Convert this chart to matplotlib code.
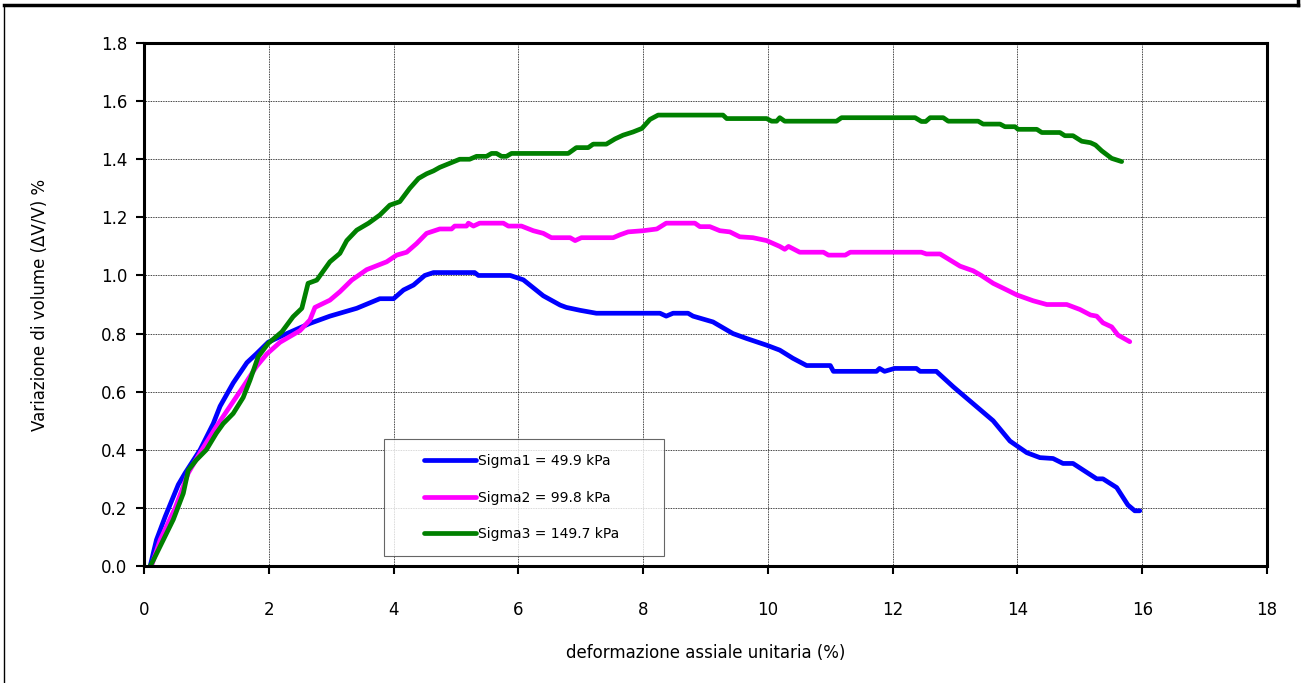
"""Volume change vs axial strain for three confining pressures."""

import matplotlib

matplotlib.use("Agg")
import matplotlib.pyplot as plt
from matplotlib import ticker
from matplotlib.legend_handler import HandlerLine2D
from matplotlib.lines import Line2D

# --- data --------------------------------------------------------------
sigma1_x = [0.1, 0.2, 0.34, 0.55, 0.66, 0.9, 1.11, 1.22, 1.43, 1.65, 1.8, 1.99,
            2.29, 2.66, 2.98, 3.41, 3.78, 4.0, 4.16, 4.32, 4.5, 4.64, 5.3, 5.36,
            5.87, 6.08, 6.4, 6.67, 6.77, 6.99, 7.25, 8.27, 8.37, 8.48, 8.72,
            8.8, 9.12, 9.44, 9.66, 9.98, 10.19, 10.4, 10.62, 11.0, 11.05,
            11.74, 11.79, 11.87, 12.03, 12.38, 12.44, 12.7, 12.97, 13.61,
            13.88, 14.15, 14.36, 14.57, 14.73, 14.89, 15.27, 15.37, 15.59,
            15.77, 15.88, 15.96]
sigma1_y = [0.0, 0.09, 0.17, 0.28, 0.32, 0.40, 0.49, 0.55, 0.63, 0.70, 0.73, 0.77,
            0.80, 0.835, 0.86, 0.887, 0.92, 0.92, 0.95, 0.967, 1.0, 1.01, 1.01,
            1.0, 1.0, 0.985, 0.93, 0.898, 0.89, 0.88, 0.87, 0.87, 0.86, 0.87,
            0.87, 0.86, 0.84, 0.80, 0.783, 0.76, 0.743, 0.715, 0.69, 0.69,
            0.67, 0.67, 0.68, 0.67, 0.68, 0.68, 0.67, 0.67, 0.617, 0.50, 0.43,
            0.39, 0.373, 0.37, 0.353, 0.353, 0.30, 0.30, 0.27, 0.21, 0.19, 0.19]

sigma2_x = [0.12, 0.26, 0.5, 0.71, 0.9, 1.16, 1.38, 1.59, 1.8, 1.97, 2.18, 2.5,
            2.66, 2.74, 2.98, 3.14, 3.33, 3.57, 3.89, 4.05, 4.21, 4.37, 4.53,
            4.74, 4.93, 4.98, 5.17, 5.2, 5.28, 5.38, 5.76, 5.84, 6.05, 6.24,
            6.4, 6.53, 6.83, 6.91, 7.01, 7.52, 7.63, 7.76, 8.0, 8.22, 8.37,
            8.83, 8.91, 9.07, 9.23, 9.39, 9.55, 9.76, 9.98, 10.19, 10.27,
            10.33, 10.51, 10.89, 10.97, 11.24, 11.32, 12.46, 12.54, 12.76,
            12.92, 13.08, 13.29, 13.42, 13.61, 13.83, 13.99, 14.25, 14.47,
            14.79, 15.0, 15.17, 15.27, 15.37, 15.51, 15.61, 15.8]
sigma2_y = [0.0, 0.09, 0.2, 0.32, 0.39, 0.48, 0.55, 0.617, 0.686, 0.73, 0.77,
            0.81, 0.847, 0.89, 0.915, 0.944, 0.984, 1.02, 1.047, 1.07, 1.08,
            1.11, 1.145, 1.16, 1.16, 1.17, 1.17, 1.18, 1.17, 1.18, 1.18, 1.17,
            1.17, 1.154, 1.145, 1.13, 1.13, 1.12, 1.13, 1.13, 1.14, 1.15,
            1.154, 1.16, 1.18, 1.18, 1.168, 1.168, 1.154, 1.15, 1.133, 1.13,
            1.12, 1.10, 1.09, 1.10, 1.08, 1.08, 1.07, 1.07, 1.08, 1.08, 1.074,
            1.074, 1.053, 1.032, 1.016, 1.0, 0.973, 0.95, 0.933, 0.913, 0.90,
            0.90, 0.883, 0.864, 0.86, 0.837, 0.823, 0.795, 0.772]

sigma3_x = [0.1, 0.15, 0.31, 0.47, 0.63, 0.71, 0.84, 1.0, 1.16, 1.27, 1.43, 1.59,
            1.7, 1.83, 1.99, 2.21, 2.39, 2.53, 2.63, 2.77, 2.98, 3.14, 3.25,
            3.41, 3.6, 3.78, 3.94, 4.1, 4.26, 4.4, 4.53, 4.64, 4.74, 4.9, 5.06,
            5.22, 5.33, 5.49, 5.57, 5.65, 5.73, 5.81, 5.89, 6.8, 6.93, 7.12,
            7.2, 7.41, 7.55, 7.68, 7.84, 7.98, 8.11, 8.24, 9.28, 9.34, 9.98,
            10.06, 10.14, 10.19, 10.27, 11.1, 11.18, 12.36, 12.46, 12.53,
            12.6, 12.81, 12.89, 13.37, 13.45, 13.72, 13.8, 13.96, 14.01,
            14.31, 14.39, 14.68, 14.76, 14.89, 15.03, 15.17, 15.25, 15.35,
            15.51, 15.67]
sigma3_y = [0.0, 0.02, 0.09, 0.16, 0.25, 0.33, 0.365, 0.40, 0.457, 0.49, 0.525,
            0.58, 0.64, 0.72, 0.766, 0.806, 0.858, 0.887, 0.973, 0.984, 1.047,
            1.076, 1.12, 1.156, 1.18, 1.208, 1.242, 1.254, 1.30, 1.334, 1.35,
            1.36, 1.372, 1.386, 1.40, 1.40, 1.41, 1.41, 1.42, 1.42, 1.41, 1.41,
            1.42, 1.42, 1.44, 1.44, 1.452, 1.452, 1.47, 1.483, 1.494, 1.506,
            1.537, 1.552, 1.552, 1.54, 1.54, 1.531, 1.531, 1.543, 1.531, 1.531,
            1.543, 1.543, 1.53, 1.53, 1.543, 1.543, 1.531, 1.531, 1.521, 1.521,
            1.512, 1.512, 1.503, 1.503, 1.492, 1.492, 1.481, 1.481, 1.462,
            1.457, 1.449, 1.429, 1.403, 1.392]

labels = ["Sigma1 = 49.9 kPa", "Sigma2 = 99.8 kPa", "Sigma3 = 149.7 kPa"]
colors = ["#0000ff", "#ff00ff", "#008000"]

x_ticks = list(range(0, 19, 2))
y_ticks = [0.0, 0.2, 0.4, 0.6, 0.8, 1.0, 1.2, 1.4, 1.6, 1.8]


class InsetLineHandler(HandlerLine2D):
    """Legend line drawn only in the right part of the handle box."""

    def get_xdata(self, legend, xdescent, ydescent, width, height, fontsize):
        x0 = -xdescent + 0.32 * width
        x1 = -xdescent + width
        return [x0, x1], [x0, x1]


plt.rcParams["font.family"] = ["DejaVu Sans"]

fig = plt.figure(figsize=(13.03, 6.83), dpi=100)
ax = fig.add_axes([0.1105, 0.1713, 0.8619, 0.7657])

# outer frame fragment (top edge, right stub, left edge)
fig.add_artist(Line2D([4 / 1303, 1298 / 1303], [1 - 5 / 683, 1 - 5 / 683],
                      transform=fig.transFigure, color="black", lw=2.5))
fig.add_artist(Line2D([1298 / 1303, 1298 / 1303], [1.0, 1 - 5 / 683],
                      transform=fig.transFigure, color="black", lw=2.5))
fig.add_artist(Line2D([4 / 1303, 4 / 1303], [0.0, 1 - 5 / 683],
                      transform=fig.transFigure, color="black", lw=1.0))

for xs, ys, c, lab in zip([sigma1_x, sigma2_x, sigma3_x],
                          [sigma1_y, sigma2_y, sigma3_y], colors, labels):
    ax.plot(xs, ys, color=c, lw=3.4, label=lab, solid_capstyle="round",
            solid_joinstyle="round")

ax.set_xlim(0, 18)
ax.set_ylim(0, 1.8)
ax.set_xticks(x_ticks)
ax.set_yticks(y_ticks)
ax.yaxis.set_major_formatter(ticker.FormatStrFormatter("%.1f"))
ax.grid(True, color="black", linestyle=(0, (1, 1)), lw=0.6)
ax.set_axisbelow(True)

for spine in ax.spines.values():
    spine.set_linewidth(2.2)
ax.tick_params(axis="both", direction="out", length=6, width=1.5,
               labelsize=12, pad=6)
ax.tick_params(axis="x", pad=19)

ax.set_xlabel("deformazione assiale unitaria (%)", fontsize=12, labelpad=18)
ax.set_ylabel("Variazione di volume (\u0394V/V) %", fontsize=12, labelpad=37)

leg = ax.legend(loc="lower left", bbox_to_anchor=(0.2137, 0.019, 0.2493, 0.23),
                mode="expand", fontsize=10, frameon=True, fancybox=False,
                edgecolor="#404040", handlelength=5.5, handletextpad=0.2,
                labelspacing=1.6, borderpad=1.1, borderaxespad=0,
                handler_map={Line2D: InsetLineHandler()})
leg.get_frame().set_linewidth(0.8)

fig.savefig("out.png", dpi=100)
